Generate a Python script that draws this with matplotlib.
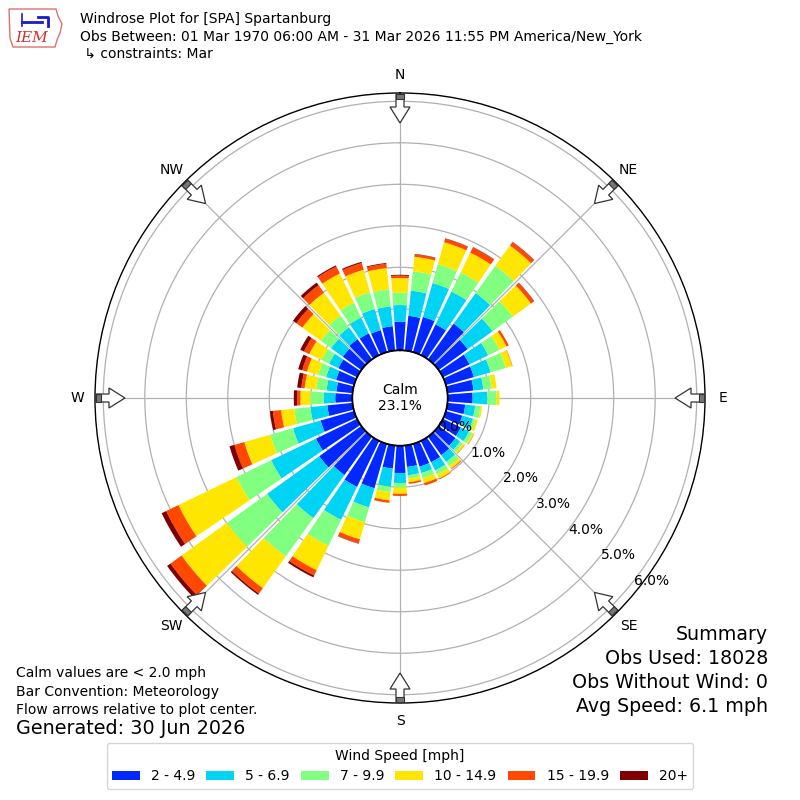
import numpy as np
import matplotlib
matplotlib.use("Agg")
import matplotlib.pyplot as plt
from matplotlib.patches import Polygon, Patch

# wind direction bins (deg, meteorological "from")
dirs = np.arange(0, 360, 10)
speed_labels = ["2 - 4.9", "5 - 6.9", "7 - 9.9", "10 - 14.9", "15 - 19.9", "20+"]
COLORS = ["#0028ff", "#00d4f5", "#80ff80", "#ffe600", "#ff4800", "#800000"]

# frequency (%) per direction, one list per speed bin
f_2_5 = [0.69, 0.84, 0.88, 0.82, 1.06, 0.86, 0.71, 0.70, 0.63, 0.60, 0.43, 0.41,
         0.48, 0.50, 0.55, 0.57, 0.57, 0.52, 0.66, 0.56, 1.11, 1.23, 1.14, 1.25,
         1.10, 0.84, 0.61, 0.41, 0.39, 0.45, 0.50, 0.55, 0.60, 0.58, 0.55, 0.59]
f_5_7 = [0.40, 0.61, 0.85, 0.88, 0.91, 0.74, 0.50, 0.42, 0.24, 0.36, 0.24, 0.27,
         0.22, 0.14, 0.20, 0.22, 0.16, 0.20, 0.24, 0.44, 0.48, 0.88, 1.28, 1.55,
         1.20, 0.69, 0.41, 0.28, 0.24, 0.25, 0.25, 0.35, 0.35, 0.42, 0.53, 0.48]
f_7_10 = [0.30, 0.47, 0.47, 0.51, 0.81, 0.60, 0.30, 0.38, 0.20, 0.22, 0.13, 0.06,
          0.09, 0.08, 0.12, 0.11, 0.13, 0.08, 0.11, 0.13, 0.37, 0.70, 1.14, 1.19,
          0.93, 0.57, 0.39, 0.32, 0.25, 0.20, 0.20, 0.30, 0.35, 0.40, 0.42, 0.41]
f_10_15 = [0.35, 0.35, 0.55, 0.53, 0.60, 0.54, 0.19, 0.16, 0.12, 0.07, 0.04, 0.06,
           0.04, 0.05, 0.08, 0.11, 0.12, 0.09, 0.15, 0.20, 0.43, 0.65, 0.94, 1.35,
           1.55, 0.65, 0.32, 0.24, 0.28, 0.28, 0.33, 0.55, 0.68, 0.78, 0.56, 0.52]
f_15_20 = [0.06, 0.06, 0.09, 0.14, 0.10, 0.09, 0.06, 0.01, 0.00, 0.00, 0.00, 0.00,
           0.01, 0.01, 0.02, 0.02, 0.06, 0.04, 0.05, 0.06, 0.10, 0.14, 0.16, 0.33,
           0.33, 0.25, 0.20, 0.08, 0.08, 0.12, 0.14, 0.18, 0.22, 0.19, 0.17, 0.10]
f_20p = [0.02, 0.01, 0.01, 0.01, 0.01, 0.01, 0.00, 0.00, 0.00, 0.00, 0.00, 0.00,
         0.00, 0.00, 0.00, 0.00, 0.00, 0.00, 0.00, 0.00, 0.01, 0.05, 0.04, 0.10,
         0.12, 0.12, 0.07, 0.08, 0.10, 0.10, 0.10, 0.10, 0.08, 0.03, 0.03, 0.02]
series = [f_2_5, f_5_7, f_7_10, f_10_15, f_15_20, f_20p]

rticks = [0, 1, 2, 3, 4, 5, 6]
compass = ["N", "NE", "E", "SE", "S", "SW", "W", "NW"]

fig = plt.figure(figsize=(8, 8), dpi=100)
ax = fig.add_axes([0.11875, 0.12125, 0.7625, 0.7625], projection="polar")
ax.set_theta_zero_location("N")
ax.set_theta_direction(-1)
ax.set_rorigin(-1.15)
ax.set_ylim(0, 6.2)

theta = np.deg2rad(dirs)
bottom = np.zeros(len(dirs))
for vals, c in zip(series, COLORS):
    vals = np.array(vals)
    ax.bar(theta, vals, width=np.deg2rad(8.4), bottom=bottom, color=c,
           edgecolor="none", zorder=2)
    bottom += vals

ax.set_xticks(np.deg2rad(np.arange(0, 360, 45)))
ax.set_xticklabels([])
ax.set_yticks(rticks[1:])
ax.set_yticklabels([])
ax.tick_params(length=0)
ax.grid(color="#b0b0b0", lw=0.9)
ax.set_axisbelow(True)
ax.spines["polar"].set_linewidth(1.0)

# calm circle
t = np.linspace(0, 2 * np.pi, 361)
ax.plot(t, np.zeros_like(t), color="k", lw=1.3, zorder=4, clip_on=False)
ax.text(0.5, 0.5, "Calm\n23.1%", transform=ax.transAxes, ha="center", va="center",
        fontsize=10, linespacing=1.15, zorder=6)
for r in rticks:
    ax.text(np.deg2rad(128), r, f"{r:.1f}%", ha="left", va="center", fontsize=10, zorder=6)

# overlay in pixel coords (y down) for arrows, header and footer text
ov = fig.add_axes([0, 0, 1, 1])
ov.set_xlim(0, 800); ov.set_ylim(800, 0); ov.axis("off"); ov.patch.set_alpha(0)
cx, cy = 400, 398
for i, lab in enumerate(compass):
    a = np.deg2rad(i * 45)
    u = np.array([np.sin(a), -np.cos(a)]); p = np.array([np.cos(a), np.sin(a)])
    pts = [(304, -4), (291, -4), (291, -10), (275, 0), (291, 10), (291, 4), (304, 4)]
    poly = [(cx + r * u[0] + w * p[0], cy + r * u[1] + w * p[1]) for r, w in pts]
    ov.add_patch(Polygon(poly, closed=True, fc="white", ec="#333333", lw=0.9, zorder=5))
    box = [(304, -4), (299, -4), (299, 4), (304, 4)]
    poly = [(cx + r * u[0] + w * p[0], cy + r * u[1] + w * p[1]) for r, w in box]
    ov.add_patch(Polygon(poly, closed=True, fc="#777777", ec="#333333", lw=0.8, zorder=6))
    ov.text(cx + 323 * u[0], cy + 323 * u[1], lab, ha="center", va="center", fontsize=10)

# IEM logo (rough)
iowa = [(9, 9), (56, 9), (58, 16), (62, 24), (60, 33), (57, 40), (55, 47), (13, 47), (10, 38)]
ov.add_patch(Polygon(iowa, closed=True, fc="none", ec="#e07070", lw=1.0))
ov.plot([22, 42], [22, 22], color="#1a1acc", lw=2)
ov.plot([38, 48, 48], [17, 17, 26], color="#1a1acc", lw=2)
ov.plot([22, 22], [14, 26], color="#1a1acc", lw=1.2)
ov.text(32, 38, "IEM", ha="center", va="center", fontsize=11, color="#d03030",
        style="italic", family="DejaVu Serif")

ov.text(80, 19, "Windrose Plot for [SPA] Spartanburg", fontsize=10, va="center")
ov.text(80, 37, "Obs Between: 01 Mar 1970 06:00 AM - 31 Mar 2026 11:55 PM America/New_York",
        fontsize=10, va="center")
ov.text(80, 54, " ↳ constraints: Mar", fontsize=10, va="center")

ov.text(16, 673, "Calm values are < 2.0 mph", fontsize=10, va="center")
ov.text(16, 692, "Bar Convention: Meteorology", fontsize=10, va="center")
ov.text(16, 710, "Flow arrows relative to plot center.", fontsize=10, va="center")
ov.text(16, 729, "Generated: 30 Jun 2026", fontsize=13.8, va="center")

for yy, s in zip([635, 659, 683, 706],
                 ["Summary", "Obs Used: 18028", "Obs Without Wind: 0", "Avg Speed: 6.1 mph"]):
    ov.text(768, yy, s, fontsize=13.7, ha="right", va="center")

handles = [Patch(facecolor=c, label=l) for c, l in zip(COLORS, speed_labels)]
fig.legend(handles=handles, loc="lower center", bbox_to_anchor=(0.5, 0.0137), ncol=6,
           title="Wind Speed [mph]", fontsize=10, title_fontsize=10, borderaxespad=0,
           handlelength=2.0, columnspacing=0.8)

fig.savefig("out.png", dpi=100)
